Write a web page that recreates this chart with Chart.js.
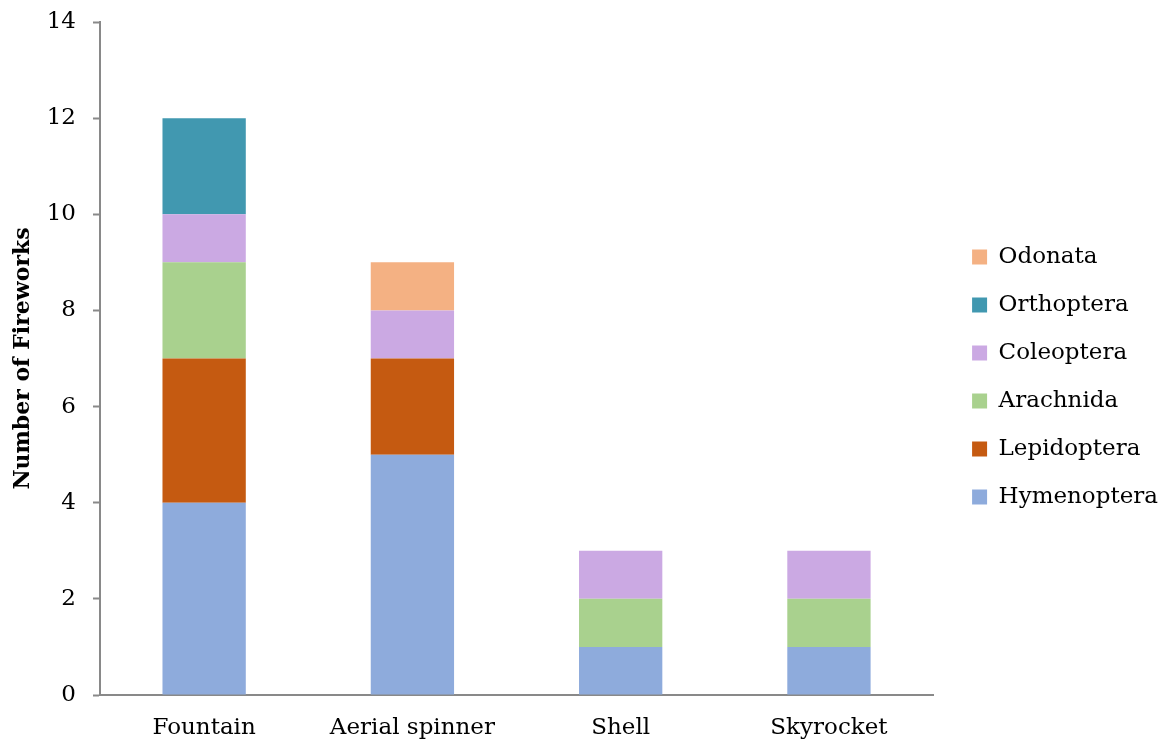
<!DOCTYPE html>
<html>
<head>
<meta charset="utf-8">
<script src="https://cdn.jsdelivr.net/npm/chart.js@4.4.1/dist/chart.umd.min.js"></script>
<style>
  html, body { margin: 0; padding: 0; background: #ffffff; overflow: hidden; }
  #wrap { width: 1163px; height: 742px; position: relative; }
</style>
</head>
<body>
<div id="wrap"><canvas id="chart"></canvas></div>
<script>
// Firework types on the x axis
const categories = ['Fountain', 'Aerial spinner', 'Shell', 'Skyrocket'];

// Insect order counts per firework type (null = none)
const hymenoptera = [4, 5, 1, 1];
const lepidoptera = [3, 2, null, null];
const arachnida   = [2, null, 1, 1];
const coleoptera  = [1, 1, 1, 1];
const orthoptera  = [2, null, null, null];
const odonata     = [null, 1, null, null];

// Y axis tick values
const yTicks = [0, 2, 4, 6, 8, 10, 12, 14];

const FONT = "'DejaVu Serif', 'Liberation Serif', serif";
const AXIS_GREY = '#898989';

function series(label, data, color) {
  return {
    label: label,
    data: data,
    backgroundColor: color,
    borderWidth: 0,
    categoryPercentage: 1.0,
    barPercentage: 0.4
  };
}

// Move the legend block a little away from the plot area
const legendNudge = {
  id: 'legendNudge',
  afterLayout(chart) {
    const lg = chart.legend;
    if (!lg) return;
    lg.left += 14; lg.right += 14;
    lg.top += 6; lg.bottom += 6;
  }
};

new Chart(document.getElementById('chart'), {
  type: 'bar',
  plugins: [legendNudge],
  data: {
    labels: categories,
    datasets: [
      series('Hymenoptera', hymenoptera, '#8eabdc'),
      series('Lepidoptera', lepidoptera, '#c55a11'),
      series('Arachnida', arachnida, '#a9d18e'),
      series('Coleoptera', coleoptera, '#cba9e3'),
      series('Orthoptera', orthoptera, '#4198b0'),
      series('Odonata', odonata, '#f4b183')
    ]
  },
  options: {
    responsive: true,
    maintainAspectRatio: false,
    animation: false,
    layout: { padding: { left: 10, top: 0, right: 9, bottom: 0 } },
    plugins: {
      tooltip: { enabled: false },
      legend: {
        position: 'right',
        reverse: true,
        align: 'center',
        labels: {
          boxWidth: 15,
          boxHeight: 15,
          padding: 25,
          color: '#000000',
          font: { family: FONT, size: 23 }
        }
      }
    },
    scales: {
      x: {
        stacked: true,
        afterFit: (axis) => { axis.height = 47; },
        grid: { display: false, drawTicks: false },
        border: { display: true, color: AXIS_GREY, width: 2 },
        ticks: {
          color: '#000000',
          padding: 19,
          font: { family: FONT, size: 23 }
        }
      },
      y: {
        stacked: true,
        min: 0,
        max: 14,
        afterBuildTicks: (axis) => { axis.ticks = yTicks.map(v => ({ value: v })); },
        afterFit: (axis) => { axis.width = 90; axis.paddingTop = 22; axis.paddingBottom = 0; },
        grid: {
          drawOnChartArea: false,
          drawTicks: true,
          tickLength: 7,
          tickWidth: 2,
          color: AXIS_GREY
        },
        border: { display: true, color: AXIS_GREY, width: 2 },
        ticks: {
          color: '#000000',
          padding: 17,
          font: { family: FONT, size: 23 }
        },
        title: {
          display: true,
          text: 'Number of Fireworks',
          color: '#000000',
          padding: 0,
          font: { family: FONT, size: 22, weight: 'bold' }
        }
      }
    }
  }
});
</script>
</body>
</html>
